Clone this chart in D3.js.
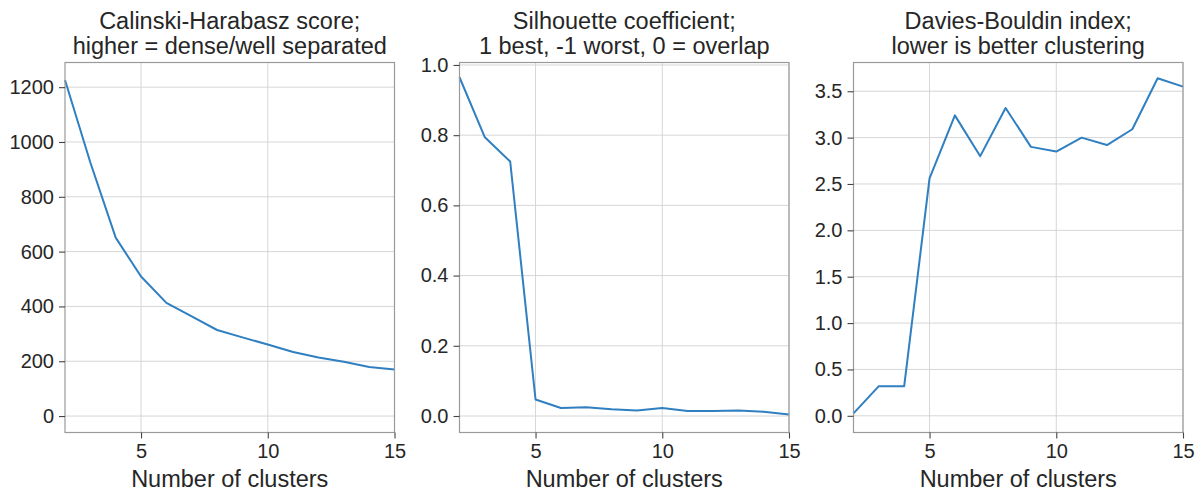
<!DOCTYPE html>
<html>
<head>
<meta charset="utf-8">
<script src="https://cdn.jsdelivr.net/npm/d3@7"></script>
<style>
  body { margin: 0; background: #fff; }
  text { font-family: "Liberation Sans", Arial, Helvetica, sans-serif; fill: #262626; }
</style>
</head>
<body>
<svg id="chart" width="1198" height="493"></svg>
<script>
// number of clusters tried
var clusters = [2, 3, 4, 5, 6, 7, 8, 9, 10, 11, 12, 13, 14, 15];

// scores
var calinski = [1226, 925, 651, 509, 413, 364, 314, 287, 261, 234, 214, 198, 179, 170];
var silhouette = [0.965, 0.794, 0.725, 0.047, 0.023, 0.025, 0.019, 0.016, 0.023, 0.014, 0.014, 0.016, 0.012, 0.004];
var daviesBouldin = [0.026, 0.32, 0.32, 2.56, 3.24, 2.80, 3.32, 2.90, 2.85, 3.00, 2.92, 3.09, 3.64, 3.55];

var xTicks = [5, 10, 15];
var calinskiTicks = [0, 200, 400, 600, 800, 1000, 1200];
var silhouetteTicks = [0.0, 0.2, 0.4, 0.6, 0.8, 1.0];
var dbTicks = [0.0, 0.5, 1.0, 1.5, 2.0, 2.5, 3.0, 3.5];

var panels = [
  { title: ["Calinski-Harabasz score;", "higher = dense/well separated"], values: calinski,
    ticks: calinskiTicks, fmt: d3.format("d"), ydom: [-60, 1290], left: 65 },
  { title: ["Silhouette coefficient;", "1 best, -1 worst, 0 = overlap"], values: silhouette,
    ticks: silhouetteTicks, fmt: d3.format(".1f"), ydom: [-0.047, 1.007], left: 459.5 },
  { title: ["Davies-Bouldin index;", "lower is better clustering"], values: daviesBouldin,
    ticks: dbTicks, fmt: d3.format(".1f"), ydom: [-0.18, 3.81], left: 853.5 }
];

var svg = d3.select("#chart");
var plotTop = 62.5, plotBottom = 432.5, plotW = 329.5;

panels.forEach(function (p) {
  var x = d3.scaleLinear().domain([2, 15]).range([p.left, p.left + plotW]);
  var y = d3.scaleLinear().domain(p.ydom).range([plotBottom, plotTop]);
  var g = svg.append("g");

  // grid
  g.selectAll(".gx").data(xTicks).enter().append("line")
    .attr("x1", function (d) { return x(d); }).attr("x2", function (d) { return x(d); })
    .attr("y1", plotTop).attr("y2", plotBottom)
    .attr("stroke", "#d6d6d6").attr("stroke-width", 1);
  g.selectAll(".gy").data(p.ticks).enter().append("line")
    .attr("x1", p.left).attr("x2", p.left + plotW)
    .attr("y1", function (d) { return y(d); }).attr("y2", function (d) { return y(d); })
    .attr("stroke", "#d6d6d6").attr("stroke-width", 1);

  // the line
  var line = d3.line()
    .x(function (d, i) { return x(clusters[i]); })
    .y(function (d) { return y(d); });
  g.append("path").datum(p.values)
    .attr("d", line)
    .attr("fill", "none")
    .attr("stroke", "#2f7fc1")
    .attr("stroke-width", 2)
    .attr("stroke-linejoin", "round");

  // frame
  g.append("rect")
    .attr("x", p.left).attr("y", plotTop).attr("width", plotW).attr("height", plotBottom - plotTop)
    .attr("fill", "none").attr("stroke", "#9a9a9a").attr("stroke-width", 1.2);

  // axes
  var xAxis = d3.axisBottom(x).tickValues(xTicks).tickSize(6).tickPadding(5);
  var gx = g.append("g").attr("transform", "translate(0," + plotBottom + ")").call(xAxis);
  var yAxis = d3.axisLeft(y).tickValues(p.ticks).tickFormat(p.fmt).tickSize(6).tickPadding(5);
  var gy = g.append("g").attr("transform", "translate(" + p.left + ",0)").call(yAxis);
  [gx, gy].forEach(function (a) {
    a.select(".domain").remove();
    a.selectAll(".tick line").attr("stroke", "#444").attr("stroke-width", 1.1);
    a.selectAll(".tick text").style("font-size", "20px").attr("fill", "#262626");
  });

  // title
  var cx = p.left + plotW / 2;
  g.append("text").attr("x", cx).attr("y", 29).attr("text-anchor", "middle")
    .style("font-size", "23.5px").text(p.title[0]);
  g.append("text").attr("x", cx).attr("y", 54).attr("text-anchor", "middle")
    .style("font-size", "23.5px").text(p.title[1]);

  // x label
  g.append("text").attr("x", cx).attr("y", 487).attr("text-anchor", "middle")
    .style("font-size", "23.5px").text("Number of clusters");
});
</script>
</body>
</html>
